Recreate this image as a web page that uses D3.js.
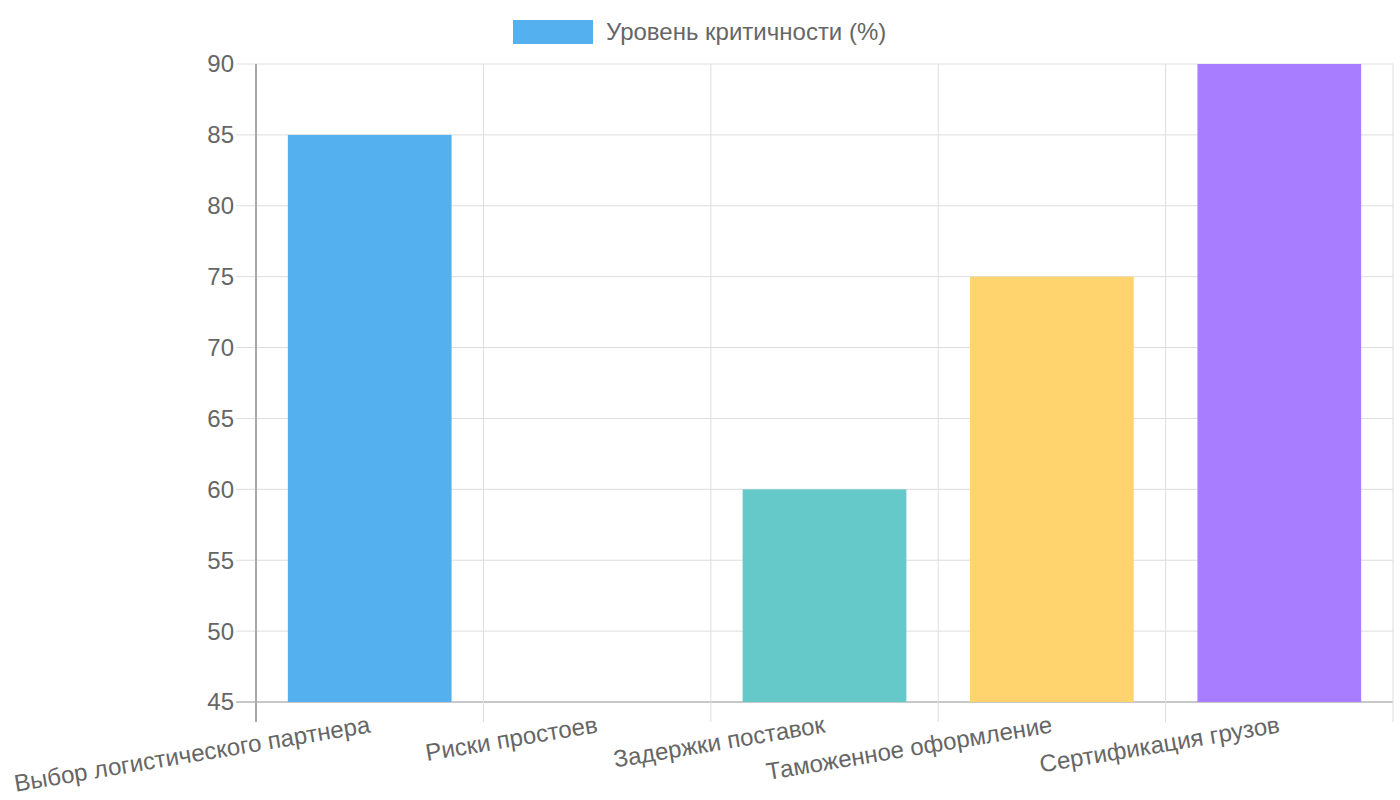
<!DOCTYPE html>
<html>
<head>
<meta charset="utf-8">
<script src="https://cdn.jsdelivr.net/npm/d3@7.9.0/dist/d3.min.js"></script>
<style>
  body { margin: 0; background: #fff; }
  svg { display: block; font-family: "Liberation Sans", Arial, sans-serif; }
</style>
</head>
<body>
<svg id="chart" width="1400" height="800"></svg>
<script>
const categories = [
  'Выбор логистического партнера',
  'Риски простоев',
  'Задержки поставок',
  'Таможенное оформление',
  'Сертификация грузов'
];
const values = [85, 45, 60, 75, 90];
const colors = ['#54b0ee', '#ff7c96', '#66c9c9', '#ffd46f', '#a87dff'];
const yTicks = [45, 50, 55, 60, 65, 70, 75, 80, 85, 90];
const seriesName = 'Уровень критичности (%)';

const svg = d3.select('#chart');
const plotLeft = 256, plotRight = 1393, plotTop = 64, plotBottom = 702;

let x = d3.scaleBand().domain(categories).range([plotLeft, plotRight]).paddingInner(0).paddingOuter(0);
let y = d3.scaleLinear().domain([45, 90]).range([plotBottom, plotTop]);

// grid lines
svg.append('g')
  .selectAll('line')
  .data(yTicks)
  .join('line')
  .attr('x1', plotLeft - 20).attr('x2', plotRight)
  .attr('y1', (d) => y(d)).attr('y2', (d) => y(d))
  .attr('stroke', (d) => (d === 45 ? '#c8c8c8' : '#dddddd'))
  .attr('stroke-width', (d) => (d === 45 ? 2 : 1));

let xLines = categories.map((c) => x(c)).concat([plotRight]);
svg.append('g')
  .selectAll('line')
  .data(xLines)
  .join('line')
  .attr('x1', (d) => d).attr('x2', (d) => d)
  .attr('y1', plotTop).attr('y2', plotBottom + 20)
  .attr('stroke', (d, i) => (i === 0 ? '#a8a8a8' : '#dddddd'))
  .attr('stroke-width', (d, i) => (i === 0 ? 2 : 1));

// bars
let barW = x.bandwidth() * 0.72;
svg.append('g')
  .selectAll('rect')
  .data(values)
  .join('rect')
  .attr('x', (d, i) => x(categories[i]) + (x.bandwidth() - barW) / 2)
  .attr('y', (d) => y(d))
  .attr('width', barW)
  .attr('height', (d) => plotBottom - y(d))
  .attr('fill', (d, i) => colors[i]);

// y tick labels
svg.append('g')
  .selectAll('text')
  .data(yTicks)
  .join('text')
  .attr('x', 234)
  .attr('y', (d) => y(d))
  .attr('dy', '0.35em')
  .attr('text-anchor', 'end')
  .attr('font-size', 24)
  .attr('fill', '#666')
  .text((d) => d);

// x labels, rotated
svg.append('g')
  .selectAll('text')
  .data(categories)
  .join('text')
  .attr('transform', (d) => `translate(${x(d) + x.bandwidth() / 2},724) rotate(-9.5)`)
  .attr('dy', '0.35em')
  .attr('text-anchor', 'end')
  .attr('font-size', 24)
  .attr('fill', '#666')
  .text((d) => d);

// legend
svg.append('rect')
  .attr('x', 513).attr('y', 20).attr('width', 80).attr('height', 24)
  .attr('fill', colors[0]);
svg.append('text')
  .attr('x', 606).attr('y', 32).attr('dy', '0.35em')
  .attr('font-size', 24)
  .attr('fill', '#666')
  .text(seriesName);
</script>
</body>
</html>
